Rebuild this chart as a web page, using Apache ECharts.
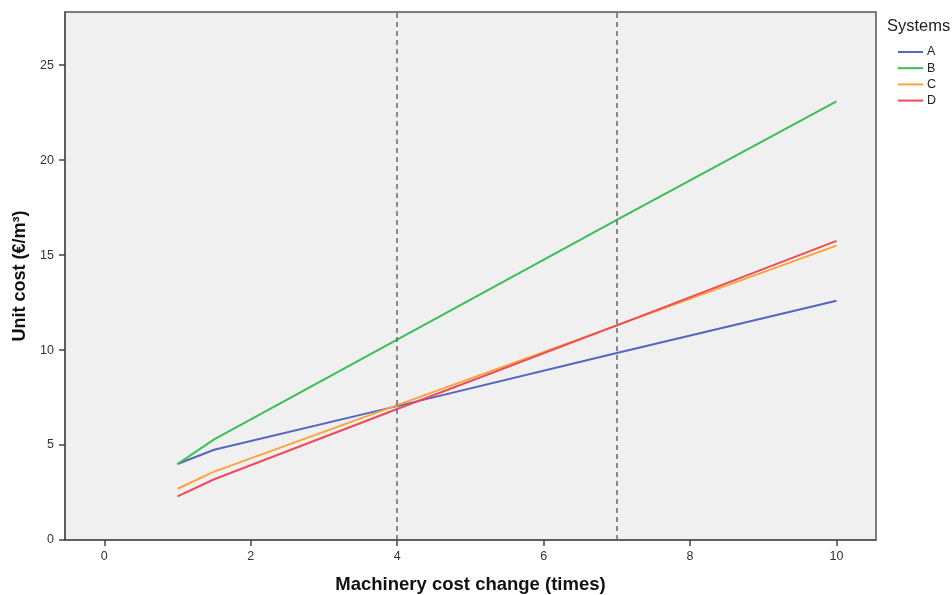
<!DOCTYPE html>
<html>
<head>
<meta charset="utf-8">
<script src="https://cdn.jsdelivr.net/npm/echarts@6/dist/echarts.min.js"></script>
<style>
  html, body { margin: 0; padding: 0; background: #ffffff; }
  #chart { width: 952px; height: 595px; }
</style>
</head>
<body>
<div id="chart"></div>
<script>
  // machinery cost change (times)
  var xValues = [1, 1.5, 4, 7, 10];

  // unit cost per system
  var systemNames = ["A", "B", "C", "D"];
  var costA = [4.0, 4.75, 7.05, 9.85, 12.6];
  var costB = [4.0, 5.3, 10.55, 16.85, 23.1];
  var costC = [2.7, 3.6, 7.1, 11.3, 15.5];
  var costD = [2.3, 3.2, 6.9, 11.3, 15.75];

  var xTicks = [0, 2, 4, 6, 8, 10];
  var yTicks = [0, 5, 10, 15, 20, 25];
  var markX = [4, 7];

  var colors = ["#5566c0", "#3dbd55", "#f9a43c", "#ee4a57"];
  var fontFamily = "'Liberation Sans', Arial, sans-serif";

  function toPairs(ys) {
    return xValues.map(function(x, i) {
      return [x, ys[i]];
    });
  }

  var allCosts = [costA, costB, costC, costD];

  var series = allCosts.map(function(ys, i) {
    var s = {
      name: systemNames[i],
      type: "line",
      data: toPairs(ys),
      showSymbol: false,
      symbol: "none",
      lineStyle: { width: 2, color: colors[i] },
      itemStyle: { color: colors[i] },
      z: 3
    };
    if (i === 0) {
      s.markLine = {
        silent: true,
        symbol: ["none", "none"],
        label: { show: false },
        lineStyle: { color: "#666666", type: [5, 4], width: 1.5 },
        data: markX.map(function(v) { return { xAxis: v }; })
      };
    }
    return s;
  });

  var chart = echarts.init(document.getElementById("chart"), null, { renderer: "canvas" });

  chart.setOption({
    animation: false,
    backgroundColor: "#ffffff",
    textStyle: { fontFamily: fontFamily },
    grid: {
      left: 65,
      right: 76,
      top: 12,
      bottom: 55,
      containLabel: false,
      outerBoundsMode: "none",
      show: true,
      backgroundColor: "#f0f0f0",
      borderColor: "#555555",
      borderWidth: 1.5
    },
    legend: {
      orient: "vertical",
      left: 893,
      top: 40,
      itemWidth: 25,
      itemHeight: 2,
      itemGap: 2.2,
      icon: "rect",
      data: systemNames,
      textStyle: { fontSize: 12.5, lineHeight: 14, color: "#222222", fontFamily: fontFamily, padding: [0, 0, 0, -1] }
    },
    graphic: [{
      type: "text",
      left: 887,
      top: 18,
      style: { text: "Systems", fontSize: 16.5, fill: "#222222", fontFamily: fontFamily }
    }],
    xAxis: {
      type: "value",
      min: -0.537,
      max: 10.54,
      name: "Machinery cost change (times)",
      nameLocation: "middle",
      nameGap: 35,
      nameTextStyle: { fontSize: 18.5, fontWeight: "bold", color: "#111111" },
      splitLine: { show: false },
      axisLine: { show: true, onZero: false, lineStyle: { color: "#555555", width: 1.5 } },
      axisTick: { show: true, length: 6, customValues: xTicks, lineStyle: { color: "#444444", width: 1.5 } },
      axisLabel: { customValues: xTicks, fontSize: 12.5, color: "#333333", margin: 10 }
    },
    yAxis: {
      type: "value",
      min: 0,
      max: 27.8,
      name: "Unit cost (€/m³)",
      nameLocation: "middle",
      nameGap: 27,
      nameTextStyle: { fontSize: 18, fontWeight: "bold", color: "#111111" },
      splitLine: { show: false },
      axisLine: { show: true, onZero: false, lineStyle: { color: "#555555", width: 1.5 } },
      axisTick: { show: true, length: 6, customValues: yTicks, lineStyle: { color: "#444444", width: 1.5 } },
      axisLabel: { customValues: yTicks, fontSize: 12.5, color: "#333333", margin: 11 }
    },
    series: series
  });
</script>
</body>
</html>
